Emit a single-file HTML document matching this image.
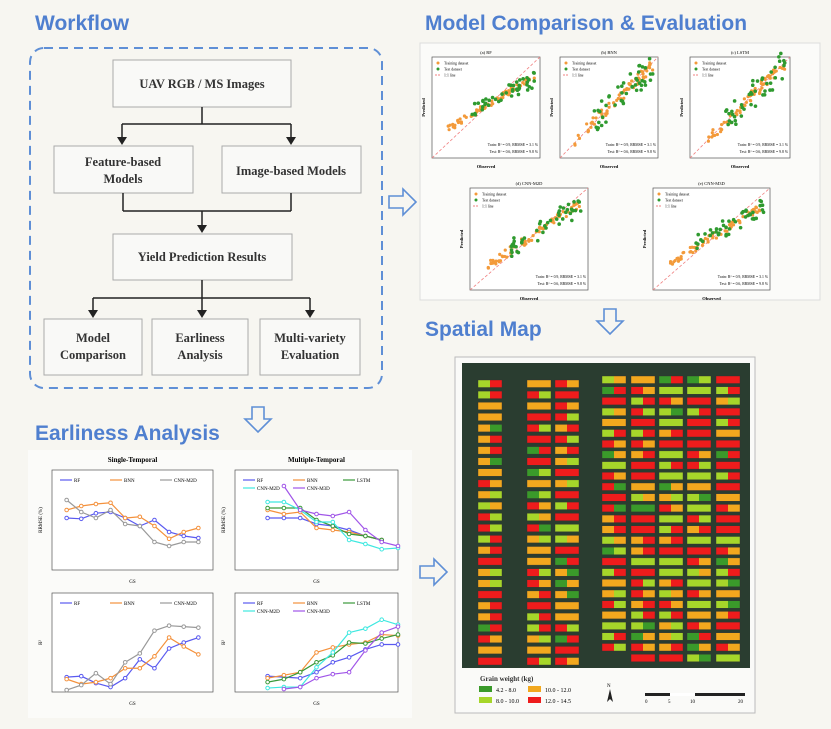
<!DOCTYPE html>
<html><head><meta charset="utf-8"><style>
html,body{margin:0;padding:0;background:#f7f6f1;}
svg{display:block;font-family:"Liberation Serif",serif;}
.t{font-family:"Liberation Sans",sans-serif;font-weight:bold;fill:#4f7fcf;font-size:21px;}
.b{font-weight:bold;font-size:12.5px;fill:#333;text-anchor:middle;}
</style></head><body>
<svg id="s" width="831" height="729" viewBox="0 0 831 729" xmlns="http://www.w3.org/2000/svg">
<rect width="831" height="729" fill="#f7f6f1"/>
<text class="t" x="35" y="30">Workflow</text>
<text class="t" x="425" y="30">Model Comparison &amp; Evaluation</text>
<text class="t" x="425" y="336">Spatial Map</text>
<text class="t" x="35" y="440">Earliness Analysis</text>
<rect x="30" y="48" width="352" height="340" rx="14" fill="none" stroke="#5f8fd6" stroke-width="2" stroke-dasharray="9,6"/>
<g fill="#f9f9f7" stroke="#aaa" stroke-width="1">
<rect x="113" y="60" width="178" height="47"/>
<rect x="54" y="146" width="139" height="47"/>
<rect x="222" y="146" width="139" height="47"/>
<rect x="113" y="234" width="179" height="46"/>
<rect x="44" y="319" width="98" height="56"/>
<rect x="152" y="319" width="96" height="56"/>
<rect x="260" y="319" width="100" height="56"/>
</g>
<text class="b" x="202" y="88">UAV RGB / MS Images</text>
<text class="b" x="123" y="166">Feature-based</text><text class="b" x="123" y="183">Models</text>
<text class="b" x="291" y="175">Image-based Models</text>
<text class="b" x="202" y="261">Yield Prediction Results</text>
<text class="b" x="93" y="342">Model</text><text class="b" x="93" y="359">Comparison</text>
<text class="b" x="200" y="342">Earliness</text><text class="b" x="200" y="359">Analysis</text>
<text class="b" x="310" y="342">Multi-variety</text><text class="b" x="310" y="359">Evaluation</text>
<g stroke="#222" stroke-width="1.5" fill="none">
<path d="M202 107V124M122 124H291M122 124V138M291 124V138"/>
<path d="M123 193V211M291 193V211M123 211H291M202 211V226"/>
<path d="M202 280V298M93 298H310M93 298V311M202 298V311M310 298V311"/>
</g>
<g fill="#222">
<path d="M117 137h10l-5 8z"/><path d="M286 137h10l-5 8z"/><path d="M197 225h10l-5 8z"/>
<path d="M88 310h10l-5 8z"/><path d="M197 310h10l-5 8z"/><path d="M305 310h10l-5 8z"/>
</g>
<g fill="none" stroke="#5f8fd6" stroke-width="1.6">
<path d="M389 196h14v-7l13 13-13 13v-7h-14z"/>
<path d="M420 566h14v-7l13 13-13 13v-7h-14z"/>
<path d="M604 309v12h-7l13 13 13-13h-7v-12z"/>
<path d="M252 407v12h-7l13 13 13-13h-7v-12z"/>
</g>
<rect x="420" y="43" width="400" height="257" fill="#fbfbf9" stroke="#ddd"/>
<g id="sc"></g>
<rect x="28" y="450" width="384" height="268" fill="#fbfbf9"/>
<g id="ea"></g>
<rect x="455" y="357" width="300" height="356" fill="#fafaf8" stroke="#bbb"/>
<rect x="462" y="363" width="288" height="305" fill="#2a3d30"/>
<g id="mp"></g>
<text x="480" y="681" font-size="7" font-weight="bold" fill="#333">Grain weight (kg)</text>
<rect x="479" y="686" width="13" height="6" fill="#3a9a2a"/><text x="496" y="692" font-size="6">4.2 - 8.0</text>
<rect x="479" y="697" width="13" height="6" fill="#a6d62a"/><text x="496" y="703" font-size="6">8.0 - 10.0</text>
<rect x="528" y="686" width="13" height="6" fill="#f2a81e"/><text x="545" y="692" font-size="6">10.0 - 12.0</text>
<rect x="528" y="697" width="13" height="6" fill="#ee1c1c"/><text x="545" y="703" font-size="6">12.0 - 14.5</text>
<path d="M607 702l3-13 3 13-3-3z" fill="#222"/><text x="607" y="687" font-size="5">N</text>
<rect x="645" y="693" width="100" height="3" fill="#222"/><rect x="670" y="693" width="25" height="3" fill="#fff"/>
<text x="645" y="703" font-size="5">0</text><text x="668" y="703" font-size="5">5</text><text x="690" y="703" font-size="5">10</text><text x="738" y="703" font-size="5">20</text>
</svg>
<script>
var NS="http://www.w3.org/2000/svg",seed=7;function r(){seed=(seed*16807)%2147483647;return (seed-1)/2147483646;}
function el(p,t,a){var e=document.createElementNS(NS,t);for(var k in a)e.setAttribute(k,a[k]);p.appendChild(e);return e;}
var sc=document.getElementById('sc');
var plots=[[432,57,108,101,"(a) RF",0.5],[560,57,98,101,"(b) BNN",0.1],[690,57,100,101,"(c) LSTM",0.05],[470,188,118,102,"(d) CNN-M2D",0.3],[653,188,117,102,"(e) CNN-M3D",0.4]];
plots.forEach(function(p){var x=p[0],y=p[1],w=p[2],h=p[3];
el(sc,'rect',{x:x,y:y,width:w,height:h,fill:'#fff',stroke:'#555','stroke-width':0.7});
var t=el(sc,'text',{x:x+w/2,y:y-3,'font-size':4.5,'text-anchor':'middle'});t.textContent=p[4];
el(sc,'line',{x1:x,y1:y+h,x2:x+w,y2:y,stroke:'#f08080','stroke-dasharray':'3,2','stroke-width':0.8});
for(var i=0;i<70;i++){var u=0.15+r()*0.8;var v=u+(r()-0.5)*0.12;v=v*(1-p[5])+0.55*p[5]+(u-0.55)*p[5]*0.3;el(sc,'circle',{cx:x+u*w,cy:y+h-v*h,r:1.6,fill:'#f39a3a'});}
for(var i=0;i<45;i++){var u=0.35+r()*0.6;var v=u+(r()-0.5)*0.3;v=v*(1-p[5])+0.6*p[5];el(sc,'circle',{cx:x+u*w,cy:y+h-v*h,r:1.8,fill:'#2f9a2f'});}
el(sc,'circle',{cx:x+6,cy:y+6,r:1.5,fill:'#f39a3a'});el(sc,'circle',{cx:x+6,cy:y+12,r:1.5,fill:'#2f9a2f'});
el(sc,'line',{x1:x+3,y1:y+18,x2:x+9,y2:y+18,stroke:'#f08080','stroke-dasharray':'2,1'});
[["Training dataset",6],["Test dataset",12],["1:1 line",18]].forEach(function(q){var tt=el(sc,'text',{x:x+12,y:y+q[1]+1.5,'font-size':3.8});tt.textContent=q[0];});
var a=el(sc,'text',{x:x+w-2,y:y+h-12,'font-size':3.8,'text-anchor':'end'});a.textContent="Train: R² = 0.9, RRMSE = 3.1 %";
a=el(sc,'text',{x:x+w-2,y:y+h-5,'font-size':3.8,'text-anchor':'end'});a.textContent="Test: R² = 0.6, RRMSE = 9.8 %";
a=el(sc,'text',{x:x+w/2,y:y+h+10,'font-size':4.5,'text-anchor':'middle','font-weight':'bold'});a.textContent="Observed";
a=el(sc,'text',{x:x-7,y:y+h/2,'font-size':4.5,'font-weight':'bold',transform:'rotate(-90 '+(x-7)+' '+(y+h/2)+')','text-anchor':'middle'});a.textContent="Predicted";
});
var ea=document.getElementById('ea');
var C={RF:'#5a5af0',BNN:'#f4913c',CNN:'#999',LSTM:'#3a9a3a',M2D:'#3ee8e0',M3D:'#a055e8'};
function chart(x,y,w,h,ymax,xmax,series,leg,title,yl){
el(ea,'rect',{x:x,y:y,width:w,height:h,fill:'#fff',stroke:'#555','stroke-width':0.7});
if(title){var t=el(ea,'text',{x:x+w/2,y:y-8,'font-size':7,'font-weight':'bold','text-anchor':'middle'});t.textContent=title;}
var t=el(ea,'text',{x:x+w/2,y:y+h+13,'font-size':5,'text-anchor':'middle'});t.textContent="GS";
t=el(ea,'text',{x:x-10,y:y+h/2,'font-size':5,'text-anchor':'middle',transform:'rotate(-90 '+(x-10)+' '+(y+h/2)+')'});t.textContent=yl;
series.forEach(function(s){var pts=s[1].map(function(v,i){return (x+(s[2]+i)/xmax*w)+','+(y+h-v/ymax*h);}).join(' ');
el(ea,'polyline',{points:pts,fill:'none',stroke:C[s[0]],'stroke-width':1.2});
s[1].forEach(function(v,i){el(ea,'circle',{cx:x+(s[2]+i)/xmax*w,cy:y+h-v/ymax*h,r:1.8,fill:'#fff',stroke:C[s[0]],'stroke-width':1});});});
leg.forEach(function(l,i){var lx=x+8+(i%3)*50,ly=y+10+Math.floor(i/3)*8;el(ea,'line',{x1:lx,y1:ly,x2:lx+12,y2:ly,stroke:C[l[0]],'stroke-width':1.2});
var tt=el(ea,'text',{x:lx+14,y:ly+2,'font-size':5});tt.textContent=l[1];});
}
chart(52,470,161,100,25,11,[['RF',[13,12.8,14.2,14.5,13,11,12.5,9.5,8.5,8],1],['BNN',[15,16,16.5,16.8,13,13.3,11,7.8,9.5,10.5],1],['CNN',[17.5,14.5,13,15,11.5,11,7,6,7,7],1]],[['RF','RF'],['BNN','BNN'],['CNN','CNN-M2D']],"Single-Temporal","RRMSE (%)");
chart(235,470,163,100,25,10,[['RF',[13,13,13,11.5,11,10,8.5,7.5],2],['BNN',[15,14,14.5,10.5,10,9.5,8.5,7.5],2],['LSTM',[15.5,15.5,15.5,12.5,11,9,8.5,7.5],2],['M2D',[17,17,15,12,12,7.5,6.5,5.2,5.5],2],['M3D',[21,15,14,13.5,14.5,10,7,6],3]],[['RF','RF'],['BNN','BNN'],['LSTM','LSTM'],['M2D','CNN-M2D'],['M3D','CNN-M3D']],"Multiple-Temporal","RRMSE (%)");
chart(52,593,161,99,1,11,[['RF',[0.15,0.16,0.09,0.05,0.14,0.33,0.24,0.44,0.5,0.55],1],['BNN',[0.13,0.08,0.1,0.14,0.24,0.24,0.36,0.55,0.46,0.38],1],['CNN',[0.02,0.07,0.19,0.08,0.3,0.39,0.62,0.67,0.66,0.65],1]],[['RF','RF'],['BNN','BNN'],['CNN','CNN-M2D']],null,"R²");
chart(235,593,163,99,1,10,[['RF',[0.16,0.15,0.14,0.2,0.3,0.35,0.43,0.48,0.48],2],['BNN',[0.14,0.17,0.2,0.4,0.45,0.48,0.5,0.58,0.57],2],['LSTM',[0.1,0.13,0.2,0.3,0.37,0.5,0.49,0.54,0.58],2],['M2D',[0.04,0.05,0.05,0.25,0.4,0.6,0.64,0.73,0.68],2],['M3D',[0.03,0.05,0.14,0.18,0.2,0.42,0.6,0.66],3]],[['RF','RF'],['BNN','BNN'],['LSTM','LSTM'],['M2D','CNN-M2D'],['M3D','CNN-M3D']],null,"R²");
var mp=document.getElementById('mp');var cols=['#3a9a2a','#a6d62a','#f2a81e','#ee1c1c'];
var colx=[478,527,555,602,631,659,687,716],n=[26,26,26,26,27,27,27,27];
colx.forEach(function(cx,ci){var y0=ci<3?380:376;var sp=ci<3?11.1:10.7;for(var j=0;j<n[ci];j++){var y=y0+j*sp;
for(var k=0;k<2;k++){var q=r();var c=q<0.08?0:q<0.3?1:q<0.62?2:3;el(mp,'rect',{x:cx+k*12,y:y,width:12,height:7.5,fill:cols[c]});}
el(mp,'rect',{x:cx,y:y,width:24,height:7.5,fill:'none',stroke:'#333','stroke-width':0.4});}});
</script>
</body></html>
